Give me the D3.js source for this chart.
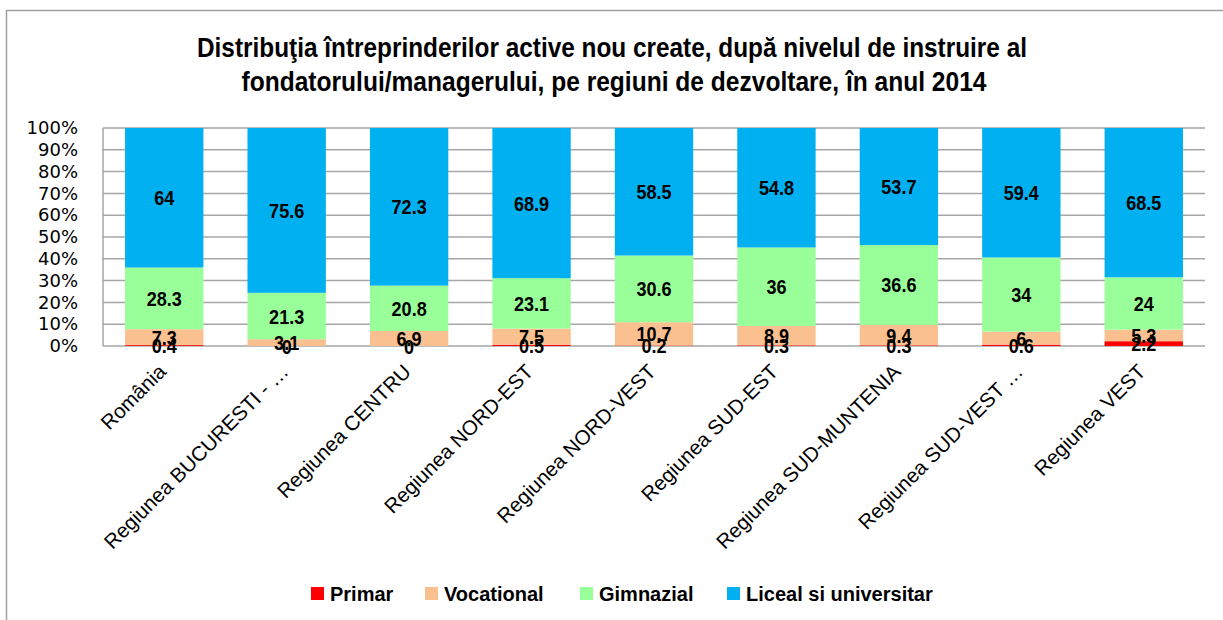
<!DOCTYPE html>
<html>
<head>
<meta charset="utf-8">
<script src="https://cdn.jsdelivr.net/npm/d3@7"></script>
<style>
  body { margin: 0; background: #fff; }
  svg { display: block; }
</style>
</head>
<body>
<div id="chart"></div>
<script>
const regions = [
  "România",
  "Regiunea BUCURESTI - …",
  "Regiunea CENTRU",
  "Regiunea NORD-EST",
  "Regiunea NORD-VEST",
  "Regiunea SUD-EST",
  "Regiunea SUD-MUNTENIA",
  "Regiunea SUD-VEST …",
  "Regiunea VEST"
];
const primar = [0.4, 0, 0, 0.5, 0.2, 0.3, 0.3, 0.6, 2.2];
const vocational = [7.3, 3.1, 6.9, 7.5, 10.7, 8.9, 9.4, 6, 5.3];
const gimnazial = [28.3, 21.3, 20.8, 23.1, 30.6, 36, 36.6, 34, 24];
const liceal = [64, 75.6, 72.3, 68.9, 58.5, 54.8, 53.7, 59.4, 68.5];
const seriesNames = ["Primar", "Vocational", "Gimnazial", "Liceal si universitar"];
const colors = ["#ff0000", "#fac090", "#99ff99", "#00b0f0"];
const yTicks = [0, 10, 20, 30, 40, 50, 60, 70, 80, 90, 100];

const width = 1223, height = 620;
const margin = { top: 128, right: 18, bottom: 274, left: 103 };
const font = "'Liberation Sans', Arial, sans-serif";

const svg = d3.select("#chart").append("svg")
  .attr("width", width)
  .attr("height", height)
  .attr("font-family", font);

// chenarul exterior
svg.append("rect")
  .attr("x", 6.5).attr("y", 10.5)
  .attr("width", width).attr("height", height)
  .attr("fill", "none")
  .attr("stroke", "#a0a0a0")
  .attr("stroke-width", 1.5);

// titlu
const titleLines = [
  { text: "Distribuţia întreprinderilor active nou create, după nivelul de instruire al", x: 612, y: 57, len: 830 },
  { text: "fondatorului/managerului, pe regiuni de dezvoltare, în anul 2014", x: 614, y: 91, len: 745 }
];
svg.append("g")
  .selectAll("text")
  .data(titleLines)
  .join("text")
  .attr("x", d => d.x)
  .attr("y", d => d.y)
  .attr("text-anchor", "middle")
  .attr("font-weight", "bold")
  .attr("font-size", 27)
  .attr("textLength", d => d.len)
  .attr("lengthAdjust", "spacingAndGlyphs")
  .text(d => d.text);

const x = d3.scaleBand()
  .domain(regions)
  .range([margin.left, width - margin.right])
  .paddingInner(0.36)
  .paddingOuter(0.18);

const y = d3.scaleLinear()
  .domain([0, 100])
  .range([height - margin.bottom, margin.top]);

// grila
svg.append("g")
  .selectAll("line")
  .data(yTicks)
  .join("line")
  .attr("x1", margin.left)
  .attr("x2", width - margin.right)
  .attr("y1", d => y(d))
  .attr("y2", d => y(d))
  .attr("stroke", "#a6a6a6")
  .attr("stroke-width", 1.5);

svg.append("line")
  .attr("x1", margin.left).attr("x2", margin.left)
  .attr("y1", y(100)).attr("y2", y(0))
  .attr("stroke", "#a6a6a6")
  .attr("stroke-width", 1.5);

// axa y
const yAxis = d3.axisLeft(y).tickValues(yTicks).tickFormat(d => d + "%").tickSize(0).tickPadding(25);
svg.append("g")
  .attr("transform", `translate(${margin.left},0)`)
  .call(yAxis)
  .call(g => g.select(".domain").remove())
  .selectAll("text")
  .attr("font-family", "'DejaVu Sans', Verdana, sans-serif")
  .attr("font-size", 18)
  .attr("fill", "#000");

// stive
const table = regions.map((r, i) => ({
  region: r,
  Primar: primar[i],
  Vocational: vocational[i],
  Gimnazial: gimnazial[i],
  "Liceal si universitar": liceal[i]
}));
const stack = d3.stack().keys(seriesNames)(table);

svg.append("g")
  .selectAll("g")
  .data(stack)
  .join("g")
  .attr("fill", (d, i) => colors[i])
  .selectAll("rect")
  .data(d => d)
  .join("rect")
  .attr("x", d => x(d.data.region))
  .attr("width", x.bandwidth())
  .attr("y", d => y(d[1]))
  .attr("height", d => y(d[0]) - y(d[1]));

// etichete valori (condensate)
const labels = svg.append("g")
  .attr("font-weight", "bold")
  .attr("font-size", 21)
  .attr("text-anchor", "middle")
  .attr("fill", "#000");

stack.forEach((layer, si) => {
  labels.selectAll(null)
    .data(layer)
    .join("text")
    .attr("transform", d => `translate(${x(d.data.region) + x.bandwidth() / 2},${y((d[0] + d[1]) / 2) + 7.5}) scale(0.86,1)`)
    .text(d => d.data[seriesNames[si]]);
});

// etichete x rotite
svg.append("g")
  .selectAll("text")
  .data(regions)
  .join("text")
  .attr("font-size", 20.5)
  .attr("fill", "#000")
  .attr("text-anchor", "end")
  .attr("transform", d => `translate(${x(d) + x.bandwidth() / 2 + 3},${y(0) + 27}) rotate(-45)`)
  .text(d => d);

// legenda
const legendX = [311, 425, 580, 727];
const legend = svg.append("g")
  .selectAll("g")
  .data(seriesNames)
  .join("g")
  .attr("transform", (d, i) => `translate(${legendX[i]},587)`);
legend.append("rect")
  .attr("width", 13).attr("height", 13)
  .attr("fill", (d, i) => colors[i]);
legend.append("text")
  .attr("x", 19)
  .attr("y", 14)
  .attr("font-weight", "bold")
  .attr("font-size", 20)
  .attr("fill", "#000")
  .text(d => d);
</script>
</body>
</html>
